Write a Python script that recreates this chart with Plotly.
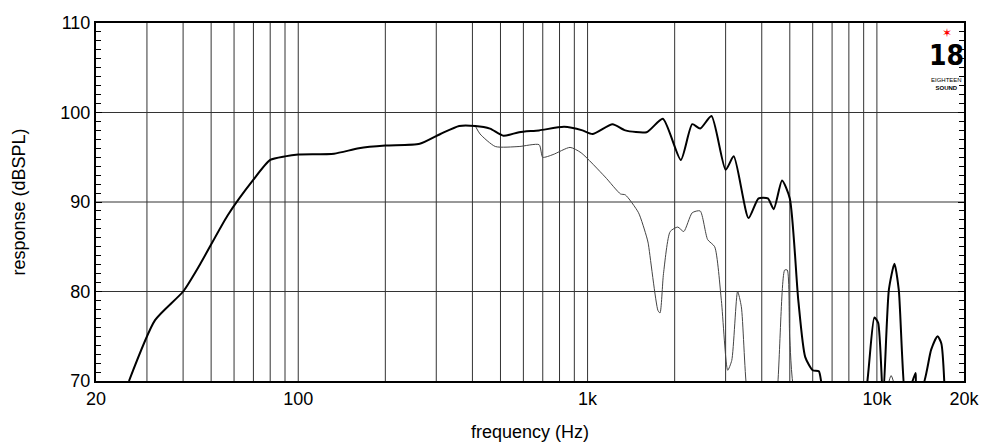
import plotly.graph_objects as go

freq_main = [26, 32, 40, 45.7, 57, 70, 80, 90, 100, 133, 162, 200, 263, 310, 360, 409, 460, 512, 580, 680, 830,
             960, 1040, 1220, 1350, 1600, 1820, 2100, 2300, 2450, 2680, 3000, 3200, 3600, 3900, 4200, 4400, 4700,
             5000, 5350, 5650, 6000, 6300, 6450, 7500, 9100, 9800, 10100, 10500, 11000, 11500, 11900, 12600,
             13600, 13700, 14400, 15400, 16200, 16700, 17200]
spl_main = [70, 76.8, 80, 83, 88.5, 92.5, 94.7, 95.1, 95.3, 95.4, 96, 96.3, 96.5, 97.6, 98.5, 98.5, 98.2, 97.4, 97.8,
            98, 98.4, 98, 97.6, 98.7, 98.0, 97.8, 99.3, 94.7, 98.7, 98.2, 99.6, 93.6, 95.1, 88.2, 90.4, 90.4, 89.2,
            92.4, 90.4, 79, 72.7, 71.2, 71.1, 69.5, 60, 68, 77.1, 76.5, 68, 80.2, 83.1, 80.2, 68, 70.9, 69.5, 69.5,
            73.5, 75, 74.2, 68]

freq_off = [409, 425, 480, 580, 680, 700, 760, 870, 950, 1150, 1300, 1350, 1500, 1600, 1620, 1750, 1780, 1830,
            1930, 2050, 2150, 2300, 2450, 2600, 2750, 2900, 3050, 3150, 3300, 3400, 3550, 4000, 4500, 4800, 4900,
            5000, 5250, 8000, 10600, 11200, 11800]
spl_off = [98.5, 97.6, 96.2, 96.2, 96.4, 95, 95.3, 96.1, 95.5, 92.8, 90.9, 90.8, 88.8, 86.1, 85.4, 77.9, 77.6, 82,
           86.7, 87.2, 86.7, 88.8, 89, 85.8, 85, 79, 71.2, 72.3, 80, 78.3, 69, 60, 68, 82.4, 82.4, 74.6, 68, 60,
           68, 70.6, 68]

x_ticks = [20, 100, 1000, 10000, 20000]
x_labels = ["20", "100", "1k", "10k", "20k"]
y_ticks = [70, 80, 90, 100, 110]

fig = go.Figure()
fig.add_trace(go.Scatter(x=freq_off, y=spl_off, mode="lines", line=dict(color="#444", width=1, shape="spline", smoothing=0.6), hoverinfo="skip"))
fig.add_trace(go.Scatter(x=freq_main, y=spl_main, mode="lines", line=dict(color="black", width=2, shape="spline", smoothing=0.6), hoverinfo="skip"))

grid_vals = [30, 40, 50, 60, 70, 80, 90, 100, 200, 300, 400, 500, 600, 700, 800, 900, 1000,
             2000, 3000, 4000, 5000, 6000, 7000, 8000, 9000, 10000]
shapes = [dict(type="line", xref="x", yref="paper", x0=g, x1=g, y0=0, y1=1,
               line=dict(color="#333", width=1), layer="below") for g in grid_vals]
shapes += [dict(type="line", xref="paper", yref="y", x0=0, x1=1, y0=v, y1=v,
                line=dict(color="#333", width=1), layer="below") for v in [80, 90, 100]]

fig.update_layout(
    width=1000, height=444, showlegend=False,
    plot_bgcolor="white", paper_bgcolor="white",
    margin=dict(l=88, r=44, t=15, b=71, autoexpand=False),
    font=dict(family="Liberation Sans, Arial", size=18, color="black"),
    shapes=shapes,
    xaxis=dict(type="log", range=[1.30103, 4.30103], tickvals=x_ticks, ticktext=x_labels, automargin=False,
               showgrid=False, showline=True, linecolor="black", linewidth=2, mirror=True,
               ticks="", title=dict(text="frequency (Hz)", standoff=18, font=dict(size=18)), zeroline=False),
    yaxis=dict(range=[70, 110], tickvals=y_ticks, showgrid=False, showline=True, linecolor="black", automargin=False,
               linewidth=2, mirror="ticks", ticks="inside", ticklen=6, tickcolor="black",
               minor=dict(dtick=1, ticks="inside", ticklen=5, tickcolor="black"),
               title=dict(text="response (dBSPL)", standoff=30, font=dict(size=18)), zeroline=False),
    annotations=[
        dict(text="✶", xref="paper", yref="paper", x=0.98, y=0.972, showarrow=False,
             font=dict(size=12, color="red"), xanchor="center", yanchor="middle"),
        dict(text="<b>18</b>", xref="paper", yref="paper", x=0.98, y=0.96, showarrow=False,
             font=dict(size=28, color="black", family="Liberation Sans Narrow, DejaVu Sans Condensed"),
             xanchor="center", yanchor="top"),
        dict(text="EIGHTEEN<br><b>SOUND</b>", xref="paper", yref="paper", x=0.98, y=0.855, showarrow=False,
             font=dict(size=6, color="black"), xanchor="center", yanchor="top"),
    ],
)
fig.write_html("out.html")
